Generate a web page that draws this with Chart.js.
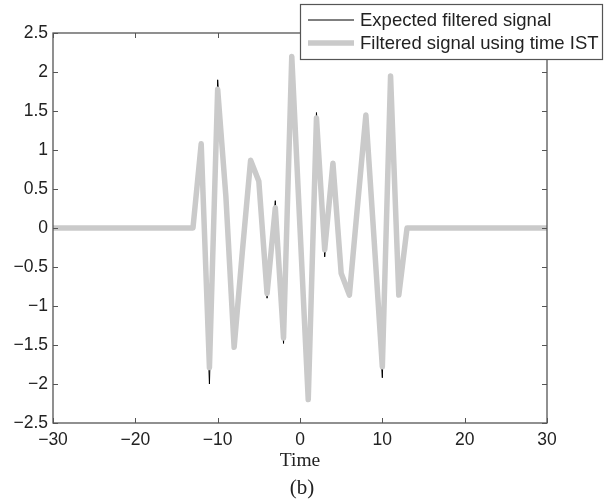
<!DOCTYPE html>
<html>
<head>
<meta charset="utf-8">
<script src="https://cdn.jsdelivr.net/npm/chart.js@4/dist/chart.umd.min.js"></script>
<style>
    html, body { margin: 0; padding: 0; background: #fff; }
    #wrap { width: 608px; height: 501px; }
</style>
</head>
<body>
<div id="wrap"><canvas id="chart" width="608" height="501"></canvas></div>
<script>
// ============================================
// Data
// ============================================

const times = [-30, -13, -12, -11, -10, -9, -8, -7, -6, -5, -4, -3, -2, -1, 0,
    1, 2, 3, 4, 5, 6, 7, 8, 9, 10, 11, 12, 13, 30];

const expectedSignal = [0, 0, 1.1, -2.0, 1.9, 0.4, -1.53, -0.3, 0.88, 0.6, -0.9, 0.35, -1.48, 2.2, 0,
    -2.2, 1.48, -0.37, 0.85, -0.58, -0.86, 0.3, 1.46, -0.15, -1.92, 1.96, -0.86, 0, 0];

const filteredSignal = [0, 0, 1.08, -1.79, 1.78, 0.4, -1.53, -0.3, 0.87, 0.6, -0.84, 0.26, -1.41, 2.2, 0,
    -2.2, 1.41, -0.28, 0.83, -0.58, -0.86, 0.3, 1.45, -0.15, -1.78, 1.95, -0.86, 0, 0];

const xTicks = [-30, -20, -10, 0, 10, 20, 30];
const yTicks = [-2.5, -2, -1.5, -1, -0.5, 0, 0.5, 1, 1.5, 2, 2.5];

const legendLabels = ['Expected filtered signal', 'Filtered signal using time IST'];
const xTitle = 'Time';
const caption = '(b)';

// ============================================
// Helpers
// ============================================

const fmt = v => String(v).replace('-', '\u2212');
const AXIS_COLOR = '#555';
const TEXT_COLOR = '#222';
const SANS = '"Liberation Sans", Arial, sans-serif';
const SERIF = '"Liberation Serif", "Times New Roman", serif';

// box, inward ticks, legend and caption
const framePlugin = {
    id: 'frame',
    afterDatasetsDraw(chart) {
        const { ctx, chartArea: a, scales } = chart;
        ctx.save();
        ctx.strokeStyle = AXIS_COLOR;
        ctx.lineWidth = 1.3;
        ctx.strokeRect(a.left, a.top, a.right - a.left, a.bottom - a.top);

        ctx.lineWidth = 1;
        ctx.beginPath();
        xTicks.forEach(t => {
            const px = Math.round(scales.x.getPixelForValue(t)) + 0.5;
            ctx.moveTo(px, a.bottom); ctx.lineTo(px, a.bottom - 5);
            ctx.moveTo(px, a.top); ctx.lineTo(px, a.top + 5);
        });
        yTicks.forEach(t => {
            const py = Math.round(scales.y.getPixelForValue(t)) + 0.5;
            ctx.moveTo(a.left, py); ctx.lineTo(a.left + 5, py);
            ctx.moveTo(a.right, py); ctx.lineTo(a.right - 5, py);
        });
        ctx.stroke();

        // legend box
        const lx = 300, ly = 4, lw = 302, lh = 55;
        ctx.fillStyle = '#fff';
        ctx.fillRect(lx, ly, lw, lh);
        ctx.strokeStyle = AXIS_COLOR;
        ctx.lineWidth = 1.2;
        ctx.strokeRect(lx + 0.5, ly + 0.5, lw, lh);

        const rows = [20, 43];
        chart.data.datasets.forEach((ds, i) => {
            ctx.strokeStyle = ds.borderColor;
            ctx.lineWidth = ds.borderWidth;
            ctx.lineCap = 'butt';
            ctx.beginPath();
            ctx.moveTo(308, rows[i]);
            ctx.lineTo(354, rows[i]);
            ctx.stroke();

            ctx.fillStyle = TEXT_COLOR;
            ctx.font = '18.5px ' + SANS;
            ctx.textAlign = 'left';
            ctx.textBaseline = 'middle';
            ctx.fillText(ds.label, 360, rows[i] + 1);
        });

        // caption under the axis title
        ctx.fillStyle = TEXT_COLOR;
        ctx.font = '21px ' + SERIF;
        ctx.textAlign = 'center';
        ctx.textBaseline = 'middle';
        ctx.fillText(caption, (a.left + a.right) / 2 + 2, 488);
        ctx.restore();
    }
};

// ============================================
// Chart
// ============================================

const ctx = document.getElementById('chart').getContext('2d');

const chart = new Chart(ctx, {
    type: 'line',
    data: {
        datasets: [
            {
                label: legendLabels[0],
                data: times.map((t, i) => ({ x: t, y: expectedSignal[i] })),
                borderColor: '#000',
                borderWidth: 1,
                pointRadius: 0,
                tension: 0,
                order: 2
            },
            {
                label: legendLabels[1],
                data: times.map((t, i) => ({ x: t, y: filteredSignal[i] })),
                borderColor: '#cacaca',
                borderWidth: 5.5,
                borderJoinStyle: 'round',
                borderCapStyle: 'round',
                pointRadius: 0,
                tension: 0,
                order: 1
            }
        ]
    },
    options: {
        responsive: false,
        animation: false,
        events: [],
        layout: { padding: { left: 0, top: 33, right: 61, bottom: 0 } },
        plugins: {
            legend: { display: false },
            tooltip: { enabled: false }
        },
        scales: {
            x: {
                type: 'linear',
                min: -30,
                max: 30,
                afterBuildTicks: scale => { scale.ticks = xTicks.map(v => ({ value: v })); },
                afterFit: scale => { scale.height = 78; },
                grid: { display: false, drawTicks: false },
                border: { display: false },
                ticks: {
                    autoSkip: false,
                    maxRotation: 0,
                    padding: 7,
                    color: TEXT_COLOR,
                    font: { family: SANS, size: 17.5 },
                    callback: v => fmt(v)
                },
                title: {
                    display: true,
                    text: xTitle,
                    color: TEXT_COLOR,
                    font: { family: SERIF, size: 19.5 },
                    padding: { top: 0, bottom: 28 }
                }
            },
            y: {
                type: 'linear',
                min: -2.5,
                max: 2.5,
                afterBuildTicks: scale => { scale.ticks = yTicks.map(v => ({ value: v })); },
                afterFit: scale => { scale.width = 53; },
                grid: { display: false, drawTicks: false },
                border: { display: false },
                ticks: {
                    autoSkip: false,
                    padding: 5,
                    color: TEXT_COLOR,
                    font: { family: SANS, size: 17.5 },
                    callback: v => fmt(v)
                }
            }
        }
    },
    plugins: [framePlugin]
});
</script>
</body>
</html>
